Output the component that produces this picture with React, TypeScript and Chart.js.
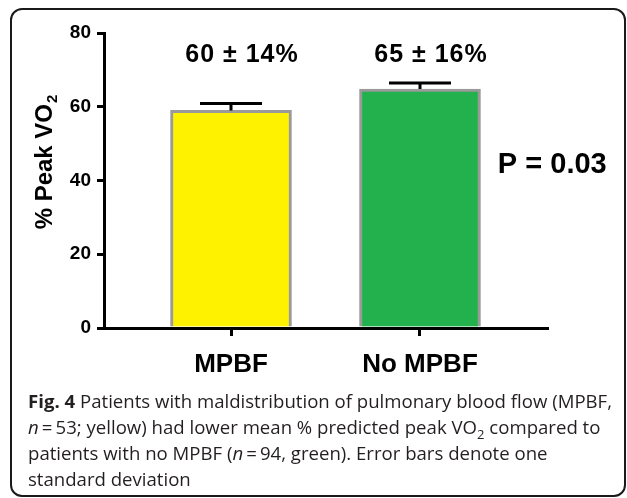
import React, { useEffect, useRef } from 'react';
import { Chart, registerables } from 'chart.js';
Chart.register(...registerables);

const categories = ['MPBF', 'No MPBF'];
const means = [59, 64.8];
const sems = [1.9, 1.65];
const summaryLabels = ['60 ± 14%', '65 ± 16%'];
const pLabel = 'P = 0.03';
const barColors = ['#FFF200', '#22B14C'];
const yMin = 0;
const yMax = 80;
const yStep = 20;

const FONT = 'Arial, "Liberation Sans", Helvetica, sans-serif';

const annotPlugin = {
  id: 'annot',
  afterDatasetsDraw(chart: any) {
    const ctx = chart.ctx;
    const ys = chart.scales.y;
    const meta = chart.getDatasetMeta(0);
    ctx.save();
    ctx.strokeStyle = '#000';
    ctx.lineWidth = 3;
    meta.data.forEach((bar: any, i: number) => {
      const top = ys.getPixelForValue(means[i] + sems[i]);
      const base = ys.getPixelForValue(means[i]);
      ctx.beginPath();
      ctx.moveTo(bar.x, base);
      ctx.lineTo(bar.x, top);
      ctx.moveTo(bar.x - 31, top);
      ctx.lineTo(bar.x + 31, top);
      ctx.stroke();
    });
    ctx.restore();
  },
  afterDraw(chart: any) {
    const ctx = chart.ctx;
    const ys = chart.scales.y;
    const xs = chart.scales.x;
    const meta = chart.getDatasetMeta(0);
    ctx.save();
    ctx.fillStyle = '#000';
    ctx.textAlign = 'center';
    ctx.textBaseline = 'middle';
    ctx.font = `bold 25px ${FONT}`;
    (ctx as any).letterSpacing = '1px';
    meta.data.forEach((bar: any, i: number) => {
      ctx.fillText(summaryLabels[i], bar.x + 11, ys.getPixelForValue(74));
    });
    (ctx as any).letterSpacing = '0px';
    ctx.font = `bold 29px ${FONT}`;
    ctx.fillText(pLabel, xs.getPixelForValue(1.7), ys.getPixelForValue(44.2));
    // y title with subscript
    const main = '% Peak VO';
    const sub = '2';
    ctx.font = `bold 24px ${FONT}`;
    const wMain = ctx.measureText(main).width;
    ctx.font = `bold 15px ${FONT}`;
    const wSub = ctx.measureText(sub).width;
    const total = wMain + wSub;
    ctx.translate(33, (chart.chartArea.top + chart.chartArea.bottom) / 2 - 18);
    ctx.rotate(-Math.PI / 2);
    ctx.textAlign = 'left';
    ctx.font = `bold 24px ${FONT}`;
    ctx.fillText(main, -total / 2, 0);
    ctx.font = `bold 15px ${FONT}`;
    ctx.fillText(sub, -total / 2 + wMain + 1, 8);
    ctx.restore();
  },
};

function BarChart() {
  const ref = useRef<HTMLCanvasElement>(null);
  useEffect(() => {
    document.body.style.overflow = 'hidden';
    const chart = new Chart(ref.current!, {
      type: 'bar',
      data: {
        datasets: [
          {
            data: means.map((m, i) => ({ x: i, y: m })),
            backgroundColor: barColors,
            borderColor: '#9a9a9a',
            borderWidth: 3,
            borderSkipped: 'bottom',
            barThickness: 121,
          },
        ],
      },
      options: {
        animation: false,
        responsive: false,
        devicePixelRatio: 1,
        layout: { padding: { top: 23, right: 77, left: 0, bottom: 0 } },
        plugins: { legend: { display: false }, tooltip: { enabled: false } },
        scales: {
          x: {
            type: 'linear',
            offset: false,
            min: -0.672,
            max: 1.672,
            afterBuildTicks: (scale: any) => {
              scale.ticks = categories.map((_, i) => ({ value: i }));
            },
            afterFit: (scale: any) => {
              scale.height = 62;
            },
            ticks: {
              callback: (v: any) => categories[v] ?? '',
              color: '#000',
              font: { family: FONT, size: 26, weight: 'bold' },
              padding: 13,
              maxRotation: 0,
              autoSkip: false,
            },
            grid: {
              display: true,
              offset: false,
              drawOnChartArea: false,
              drawTicks: true,
              tickLength: 8,
              color: '#000',
              lineWidth: 3,
            },
            border: { display: true, color: '#000', width: 3 },
          },
          y: {
            min: yMin,
            max: yMax,
            afterFit: (scale: any) => {
              scale.width = 92;
            },
            ticks: {
              stepSize: yStep,
              color: '#000',
              font: { family: FONT, size: 19, weight: 'bold' },
              padding: 6,
            },
            grid: {
              display: true,
              drawOnChartArea: false,
              drawTicks: true,
              tickLength: 7,
              color: '#000',
              lineWidth: 3,
            },
            border: { display: true, color: '#000', width: 3 },
          },
        },
      } as any,
      plugins: [annotPlugin],
    });
    return () => chart.destroy();
  }, []);
  return <canvas ref={ref} width={612} height={380} style={{ position: 'absolute', left: 0, top: 0, width: 612, height: 380 }} />;
}

export default function App() {
  const cap: React.CSSProperties = {
    position: 'absolute',
    left: 16,
    top: 378,
    fontFamily: '"Open Sans", "Noto Sans", sans-serif',
    fontSize: 18.6,
    lineHeight: '26px',
    color: '#231f20',
    whiteSpace: 'nowrap',
  };
  return (
    <div
      style={{
        position: 'absolute',
        left: 10,
        top: 8,
        width: 616,
        height: 489,
        boxSizing: 'border-box',
        border: '2px solid #1a1a1a',
        borderRadius: 12,
        background: '#fff',
        overflow: 'hidden',
      }}
    >
      <BarChart />
      <div style={cap}>
        <b>Fig. 4</b> Patients with maldistribution of pulmonary blood flow (MPBF,
        <br />
        <i>n</i>&#8201;=&#8201;53; yellow) had lower mean % predicted peak VO<sub style={{ fontSize: '70%', lineHeight: 0 }}>2</sub> compared to
        <br />
        patients with no MPBF (<i>n</i>&#8201;=&#8201;94, green). Error bars denote one
        <br />
        standard deviation
      </div>
    </div>
  );
}
